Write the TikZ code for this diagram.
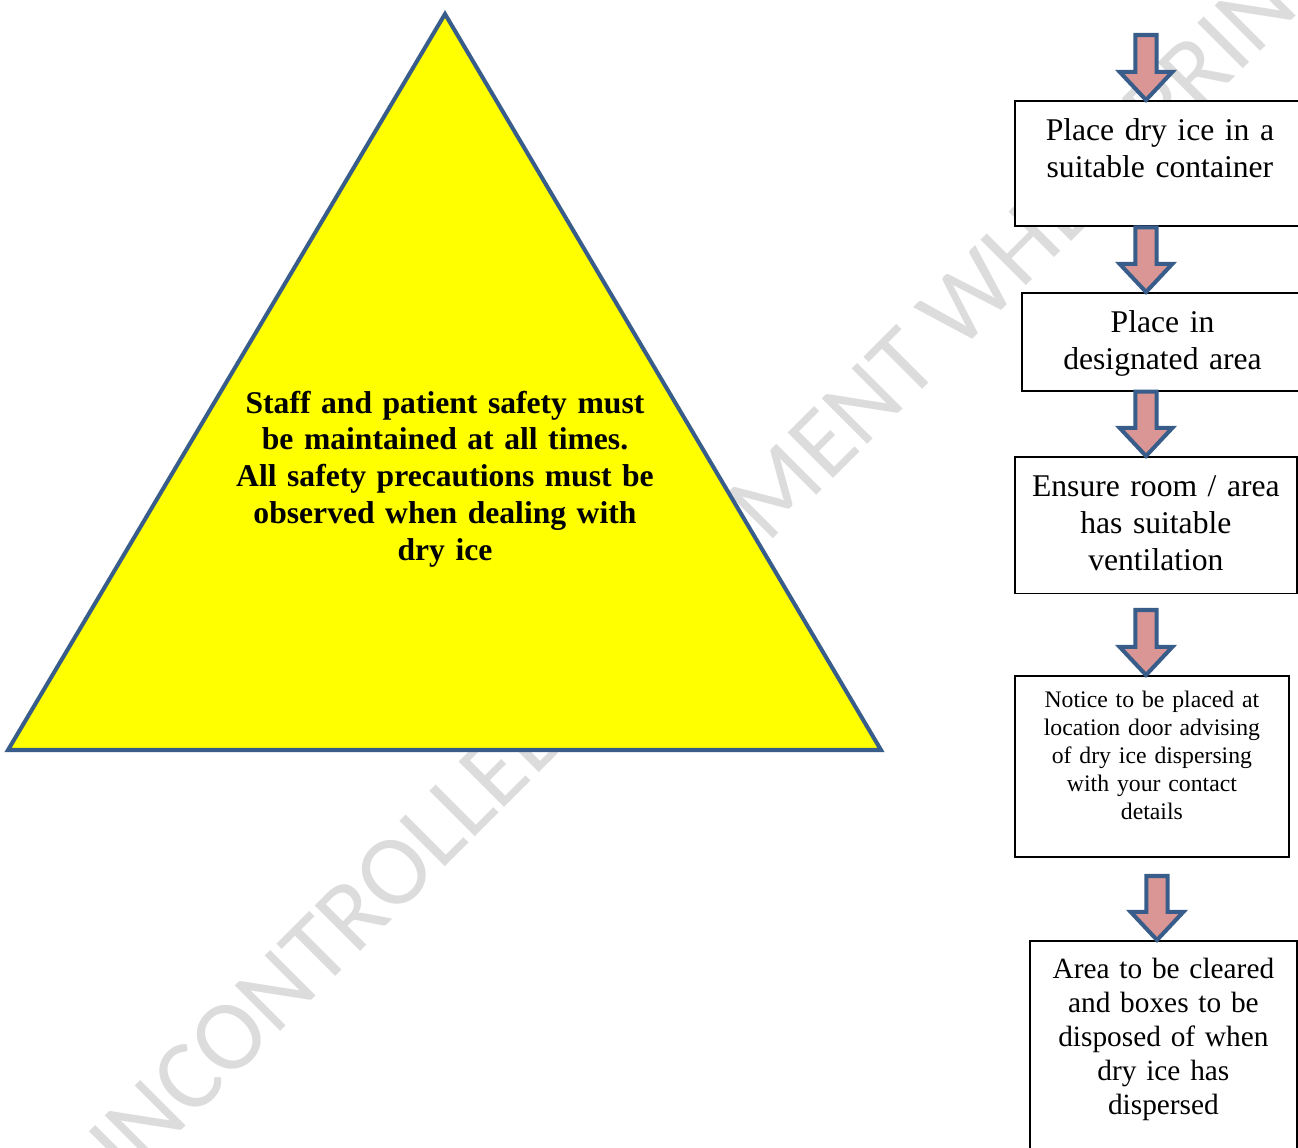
\documentclass[tikz,border=0pt]{standalone}
\usepackage{fontspec}
\setmainfont{Liberation Serif}
\newfontfamily\wmfont{Carlito}
\usetikzlibrary{calc}
\definecolor{wmgray}{HTML}{DCDCDC}
\definecolor{arrowpink}{HTML}{D99694}
\definecolor{navyline}{HTML}{385D8A}
\definecolor{signyellow}{HTML}{FFFF00}
\tikzset{
  flowbox/.style={draw=black, line width=1.1pt, fill=white, inner sep=0pt,
    align=center, anchor=north west, font=\fontsize{18}{21}\selectfont},
  bigarrow/.style={draw=navyline, fill=arrowpink, line width=2.3pt, line join=miter},
  warntri/.style={draw=navyline, fill=signyellow, line width=2.3pt, line join=miter},
  tritext/.style={anchor=base, inner sep=0pt, align=center, text width=12cm,
    font=\fontsize{18}{21}\selectfont\bfseries},
  wmark/.style={anchor=base west, rotate=45, inner sep=0pt, text=wmgray,
    font=\wmfont\fontsize{57}{60}\selectfont}
}
% block arrow: #1 tail, #2 tip
\newcommand{\blockarrow}[2]{%
  \draw[bigarrow] let \p1=(#1), \p2=(#2) in
    (\x2-6pt,\y1) -- (\x2+6pt,\y1) -- (\x2+6pt,\y2+16pt)
    -- (\x2+15pt,\y2+16pt) -- (\x2,\y2) -- (\x2-15pt,\y2+16pt)
    -- (\x2-6pt,\y2+16pt) -- cycle;}

\begin{document}
\begin{tikzpicture}[x=0.02cm, y=-0.02cm]
\useasboundingbox (0,0) rectangle (1298,1147);

% watermark behind everything
\node[wmark] (wm) at (100,1212) {UNCONTROLLED DOCUMENT WHEN PRINTED};

% warning triangle
\draw[warntri] (445,14) coordinate (apex) -- (8,750) coordinate (bl)
  -- (881,750) coordinate (br) -- cycle;
\node[tritext] (msg) at (445,413) {Staff and patient safety must\\
  be maintained at all times.\\ All safety precautions must be\\
  observed when dealing with\\ dry ice};

% flow boxes
\node[flowbox, text width=165pt, text height=22.7pt, text depth=48.7pt]
  (box1) at (1014,100) {Place dry ice in a\\suitable container};
\node[flowbox, text width=160pt, text height=22.7pt, text depth=32.9pt]
  (box2) at (1021,292) {Place in\\designated area};
\node[flowbox, text width=160.4pt, text height=22.7pt, text depth=55pt]
  (box3) at (1014,456) {Ensure room / area\\has suitable\\ventilation};
\node[flowbox, text width=155.9pt, text height=18.1pt, text depth=85.1pt,
  font=\fontsize{13.5}{15.9}\selectfont]
  (box4) at (1014,675) {Notice to be placed at\\location door advising\\
  of dry ice dispersing\\with your contact\\details};
\node[flowbox, text width=151.9pt, text height=21.5pt, text depth=126pt,
  font=\fontsize{16.7}{19.3}\selectfont]
  (box5) at (1029,940) {Area to be cleared\\and boxes to be\\disposed of when\\
  dry ice has\\dispersed};

% arrows
\coordinate (ax) at (1146,0);
\coordinate (bx) at (1157,0);
\coordinate (tail1) at (1146,35);
\coordinate (tail4) at (1146,610);
\coordinate (tail5) at (1157,876);
\blockarrow{tail1}{ax |- box1.north}
\blockarrow{ax |- box1.south}{ax |- box2.north}
\blockarrow{ax |- box2.south}{ax |- box3.north}
\blockarrow{tail4}{ax |- box4.north}
\blockarrow{tail5}{bx |- box5.north}
\end{tikzpicture}
\end{document}
